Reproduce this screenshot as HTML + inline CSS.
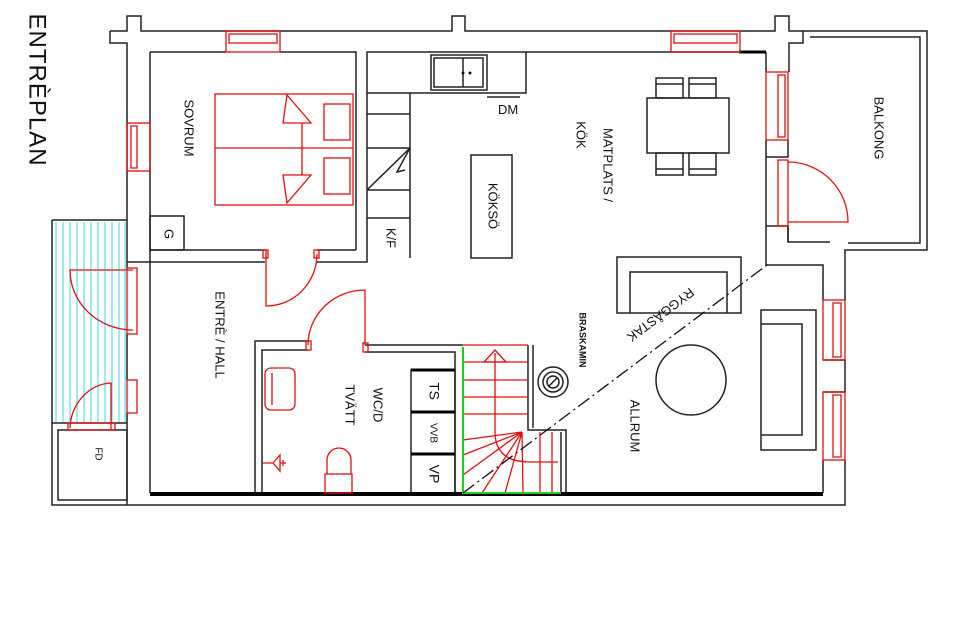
<!DOCTYPE html>
<html><head><meta charset="utf-8"><style>
html,body{margin:0;padding:0;background:#fff}
svg{display:block}
text{font-family:"Liberation Sans",sans-serif;fill:#111}
</style></head><body>
<svg width="960" height="640" viewBox="0 0 960 640" xmlns="http://www.w3.org/2000/svg">
<g fill="none" stroke="#222" stroke-width="1.5">
<!-- outer top wall -->
<path d="M110,31 H127 V16 H141 V31 H452 V16 H465 V31 H740"/>
<path d="M110,31 V43 H127 V268"/>
<path d="M150,52 H226 M280,52 H356 V250"/>
<path d="M150,52 V250 H265 M317,250 H356"/>
<path d="M150,250 V262 H127"/>
<path d="M127,334 V380 M127,413 V505"/>
<path d="M150,262 H265 M317,262 H367 V52 H740"/>
<path d="M150,262 V493"/>
<!-- right side -->
<path d="M740,31 H775 V16 H789 V31 H803 V43 H789 V72 M766,52 V72 M766,140 V226 H788 V242 H830 M766,226 V265 H823 V300 M823,460 V493"/>
<path d="M788,140 V157 H766 M788,226 V242"/>
<path d="M803,31 H927 V250 H845 V265 M810,37 H920 V243 H848"/>
<path d="M845,265 V300 M845,360 V392 M845,460 V505 H52 V423 H127"/>
<path d="M823,360 H845 M823,392 H845"/>
<!-- porch -->
<path d="M52,220 H127 M52,220 V423"/>
<rect x="58" y="430" width="69" height="70"/>
<!-- kitchen counter -->
<path d="M367,93 H410 V258 M410,93 H526 V52"/>
<path d="M367,114 H410 M367,148 H410 M367,190 H410 M367,218 H410"/>
<path d="M367,190 L410,148 L397,172 L405,170" />
<rect x="431" y="55" width="56" height="35"/>
<rect x="434" y="58" width="49" height="29"/>
<path d="M463,58 V87"/>
<path d="M487,97 H520"/>
<rect x="471" y="155" width="41" height="103"/>
<rect x="150" y="216" width="34" height="34"/>
<!-- dining -->
<rect x="647" y="98" width="82" height="55"/>
<rect x="656" y="78" width="27" height="20"/><rect x="689" y="78" width="27" height="20"/>
<rect x="656" y="153" width="27" height="22"/><rect x="689" y="153" width="27" height="22"/>
<path d="M656,84 H683 M689,84 H716 M656,169 H683 M689,169 H716"/>
<!-- WC -->
<path d="M255,493 V341 H308 M365,345 H463 M262,493 V350 H308 M365,352 H455 V493"/>
<rect x="411" y="370" width="44" height="123"/>
<path d="M411,412 H455 M411,454 H455" />
<!-- allrum furniture -->
<rect x="617" y="257" width="124" height="56"/>
<path d="M630,313 V272 H727 V313"/>
<rect x="761" y="310" width="55" height="140"/>
<path d="M761,324 H802 V435 H761"/>
<circle cx="691" cy="380" r="35"/>
<circle cx="553" cy="382" r="15"/><circle cx="553" cy="382" r="10"/><circle cx="553" cy="382" r="6"/>
<path d="M549,386 L557,378"/>
<!-- stair rails -->
<path d="M528,345 V430 H566 V493 M533,345 V428 M561,432 V493"/>
</g>
<!-- thick walls -->
<path d="M150,494 H823" stroke="#000" stroke-width="4"/>
<path d="M739,52 H766" stroke="#000" stroke-width="3"/>
<path d="M411,370 H455 M411,412 H455 M411,454 H455" stroke="#000" stroke-width="3"/>
<!-- cyan porch lines -->
<g stroke="#3cd8e6" stroke-width="1">
<path d="M56,222V422M63,222V422M70,222V422M77,222V422M84,222V422M91,222V422M98,222V422M105,222V422M112,222V422M119,222V422M125,222V422"/>
</g>
<!-- red items -->
<g fill="none" stroke="#e01010" stroke-width="1.3">
<rect x="226" y="31" width="54" height="21"/><rect x="229" y="34" width="48" height="9"/>
<rect x="671" y="31" width="69" height="21"/><rect x="674" y="34" width="63" height="9"/>
<rect x="127" y="123" width="23" height="48"/><rect x="131" y="126" width="6" height="42"/>
<rect x="766" y="72" width="22" height="68"/><rect x="778" y="75" width="7" height="62"/>
<rect x="778" y="160" width="10" height="66"/>
<path d="M788,162 A60,60 0 0 1 848,222 H788"/>
<rect x="823" y="300" width="22" height="60"/><rect x="833" y="303" width="8" height="54"/>
<rect x="823" y="392" width="22" height="68"/><rect x="833" y="395" width="8" height="62"/>
<rect x="127" y="268" width="10" height="66"/>
<path d="M133,270 H70 A63,60 0 0 0 133,330"/>
<rect x="127" y="380" width="10" height="33"/>
<rect x="68" y="423" width="47" height="7"/>
<path d="M111,430 V383 A43,47 0 0 0 70,428"/>
<!-- sovrum door -->
<path d="M266,250 V306 A51,52 0 0 0 317,254"/><rect x="263" y="250" width="5" height="8"/><rect x="314" y="250" width="5" height="8"/>
<!-- wc door -->
<path d="M365,345 V290 A57,55 0 0 0 308,345"/><rect x="306" y="341" width="5" height="9"/><rect x="363" y="343" width="5" height="9"/>
<!-- bed -->
<rect x="215" y="94" width="138" height="111"/>
<path d="M215,148 H353"/>
<rect x="324" y="104" width="26" height="36"/><rect x="324" y="158" width="26" height="36"/>
<path d="M302,148 V123 H311 L287,95 L283,123 H302 M302,148 V175 H311 L287,203 L283,175 H302"/>
<!-- sink, toilet, drain -->
<rect x="265" y="368" width="30" height="42" rx="6"/><path d="M272,373 V405"/>
<rect x="325" y="474" width="27" height="19"/><path d="M327,474 V460 A12,12 0 0 1 351,460 V474"/>
<path d="M263,463 H273 L280,455 V471 L273,463 M280,463 H286 M283,460 V466"/>
<!-- stair treads -->
<path d="M463,345 H528 M463,362 H528 M463,380 H528 M463,397 H528 M463,414 H528"/>
<path d="M522,432 L463,475 M522,432 L463,455 M522,432 L482,493 M522,432 L505,493 M522,432 L523,493 M540,432 V493 M552,432 V493 M522,432 L463,440"/>
<path d="M495,353 V432 Q495,462 530,462 H558"/><path d="M484,362 L495,350 L506,362 Z"/>
</g>
<g stroke="#22cc22" stroke-width="2" fill="none"><path d="M463,347 V493 H561"/></g>
<path d="M463,493 L767,265" stroke="#111" stroke-width="1.3" stroke-dasharray="14,4,2,4" fill="none"/>
<circle cx="472" cy="36" r="0"/>
<circle cx="463" cy="73" r="1.5" fill="#111"/><circle cx="470" cy="73" r="1.5" fill="#111"/>
<!-- texts -->
<text x="36" y="90" font-size="24" transform="rotate(90 36 90)" text-anchor="middle" dominant-baseline="middle" style="letter-spacing:1px">ENTRÈPLAN</text>
<text font-size="13" transform="translate(188,128) rotate(90)" text-anchor="middle" dominant-baseline="middle">SOVRUM</text>
<text font-size="13" transform="translate(168,234) rotate(90)" text-anchor="middle" dominant-baseline="middle">G</text>
<text font-size="13" transform="translate(390,238) rotate(90)" text-anchor="middle" dominant-baseline="middle">K/F</text>
<text font-size="13" transform="translate(492,206) rotate(90)" text-anchor="middle" dominant-baseline="middle">KÖKSÖ</text>
<text x="498" y="114" font-size="13">DM</text>
<text font-size="13" transform="translate(607,165) rotate(90)" text-anchor="middle" dominant-baseline="middle">MATPLATS /</text>
<text font-size="13" transform="translate(580,135) rotate(90)" text-anchor="middle" dominant-baseline="middle">KÖK</text>
<text font-size="13" transform="translate(878,128) rotate(90)" text-anchor="middle" dominant-baseline="middle">BALKONG</text>
<text font-size="13" transform="translate(219,335) rotate(90)" text-anchor="middle" dominant-baseline="middle">ENTRÈ / HALL</text>
<text font-size="13" transform="translate(377,405) rotate(90)" text-anchor="middle" dominant-baseline="middle">WC/D</text>
<text font-size="13" transform="translate(349,405) rotate(90)" text-anchor="middle" dominant-baseline="middle">TVÄTT</text>
<text font-size="14" transform="translate(433,391) rotate(90)" text-anchor="middle" dominant-baseline="middle">TS</text>
<text font-size="10" transform="translate(433,433) rotate(90)" text-anchor="middle" dominant-baseline="middle">VVB</text>
<text font-size="14" transform="translate(433,474) rotate(90)" text-anchor="middle" dominant-baseline="middle">VP</text>
<text font-size="10" transform="translate(98,454) rotate(90)" text-anchor="middle" dominant-baseline="middle">FD</text>
<text font-size="9" font-weight="bold" transform="translate(582,340) rotate(90)" text-anchor="middle" dominant-baseline="middle">BRASKAMIN</text>
<text font-size="13" transform="translate(634,426) rotate(90)" text-anchor="middle" dominant-baseline="middle">ALLRUM</text>
<text font-size="13" transform="translate(660,314) rotate(143)" text-anchor="middle" dominant-baseline="middle">RYGGÅSTAK</text>
</svg>
</body></html>
